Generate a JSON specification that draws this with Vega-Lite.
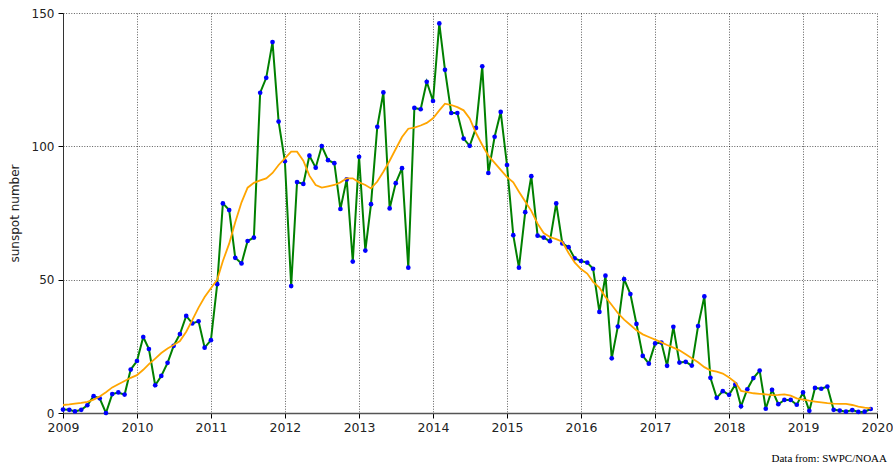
{
  "$schema": "https://vega.github.io/schema/vega-lite/v6.json",
  "width": 814,
  "height": 400,
  "autosize": "none",
  "padding": {"left": 63, "top": 13, "right": 16, "bottom": 56},
  "background": "white",
  "config": {
    "view": {"stroke": null},
    "font": "DejaVu Sans"
  },
  "title": {
    "text": "Data from: SWPC/NOAA",
    "orient": "bottom",
    "anchor": "end",
    "frame": "group",
    "font": "Liberation Serif",
    "fontSize": 11,
    "fontWeight": "normal",
    "color": "#000",
    "offset": 19,
    "dx": 10
  },
  "data": {
    "values": [
      {"d":"2009-01-01","ssn":1.3,"sm":3.0},{"d":"2009-02-01","ssn":1.2,"sm":3.2},{"d":"2009-03-01","ssn":0.6,"sm":3.5},{"d":"2009-04-01","ssn":1.2,"sm":3.8},{"d":"2009-05-01","ssn":2.9,"sm":4.2},{"d":"2009-06-01","ssn":6.3,"sm":5.0},{"d":"2009-07-01","ssn":5.5,"sm":6.2},{"d":"2009-08-01","ssn":0.0,"sm":7.8},{"d":"2009-09-01","ssn":7.1,"sm":9.6},{"d":"2009-10-01","ssn":7.7,"sm":10.8},{"d":"2009-11-01","ssn":6.9,"sm":12.0},{"d":"2009-12-01","ssn":16.3,"sm":13.2},
      {"d":"2010-01-01","ssn":19.5,"sm":14.2},{"d":"2010-02-01","ssn":28.5,"sm":16.2},{"d":"2010-03-01","ssn":24.0,"sm":18.3},{"d":"2010-04-01","ssn":10.4,"sm":20.4},{"d":"2010-05-01","ssn":13.9,"sm":22.5},{"d":"2010-06-01","ssn":18.8,"sm":24.2},{"d":"2010-07-01","ssn":25.2,"sm":25.5},{"d":"2010-08-01","ssn":29.6,"sm":27.0},{"d":"2010-09-01","ssn":36.4,"sm":30.5},{"d":"2010-10-01","ssn":33.6,"sm":34.8},{"d":"2010-11-01","ssn":34.4,"sm":39.5},{"d":"2010-12-01","ssn":24.5,"sm":43.5},
      {"d":"2011-01-01","ssn":27.3,"sm":46.8},{"d":"2011-02-01","ssn":48.3,"sm":50.0},{"d":"2011-03-01","ssn":78.6,"sm":57.0},{"d":"2011-04-01","ssn":76.1,"sm":63.5},{"d":"2011-05-01","ssn":58.2,"sm":71.5},{"d":"2011-06-01","ssn":56.1,"sm":79.0},{"d":"2011-07-01","ssn":64.5,"sm":84.5},{"d":"2011-08-01","ssn":65.8,"sm":86.3},{"d":"2011-09-01","ssn":120.1,"sm":87.2},{"d":"2011-10-01","ssn":125.7,"sm":88.0},{"d":"2011-11-01","ssn":139.1,"sm":90.0},{"d":"2011-12-01","ssn":109.3,"sm":93.0},
      {"d":"2012-01-01","ssn":94.4,"sm":95.5},{"d":"2012-02-01","ssn":47.6,"sm":98.0},{"d":"2012-03-01","ssn":86.6,"sm":98.0},{"d":"2012-04-01","ssn":85.9,"sm":94.6},{"d":"2012-05-01","ssn":96.5,"sm":89.0},{"d":"2012-06-01","ssn":92.0,"sm":85.5},{"d":"2012-07-01","ssn":100.1,"sm":84.5},{"d":"2012-08-01","ssn":94.8,"sm":85.0},{"d":"2012-09-01","ssn":93.7,"sm":85.5},{"d":"2012-10-01","ssn":76.5,"sm":86.5},{"d":"2012-11-01","ssn":87.6,"sm":88.0},{"d":"2012-12-01","ssn":56.8,"sm":88.0},
      {"d":"2013-01-01","ssn":96.1,"sm":86.5},{"d":"2013-02-01","ssn":60.9,"sm":85.5},{"d":"2013-03-01","ssn":78.3,"sm":84.2},{"d":"2013-04-01","ssn":107.3,"sm":86.8},{"d":"2013-05-01","ssn":120.2,"sm":90.5},{"d":"2013-06-01","ssn":76.7,"sm":94.6},{"d":"2013-07-01","ssn":86.2,"sm":99.0},{"d":"2013-08-01","ssn":91.8,"sm":103.5},{"d":"2013-09-01","ssn":54.5,"sm":106.6},{"d":"2013-10-01","ssn":114.4,"sm":107.0},{"d":"2013-11-01","ssn":113.9,"sm":107.8},{"d":"2013-12-01","ssn":124.2,"sm":108.8},
      {"d":"2014-01-01","ssn":117.0,"sm":110.5},{"d":"2014-02-01","ssn":146.1,"sm":113.5},{"d":"2014-03-01","ssn":128.7,"sm":116.0},{"d":"2014-04-01","ssn":112.5,"sm":115.5},{"d":"2014-05-01","ssn":112.5,"sm":114.7},{"d":"2014-06-01","ssn":102.9,"sm":113.5},{"d":"2014-07-01","ssn":100.2,"sm":110.5},{"d":"2014-08-01","ssn":106.9,"sm":105.0},{"d":"2014-09-01","ssn":130.0,"sm":100.5},{"d":"2014-10-01","ssn":90.0,"sm":96.5},{"d":"2014-11-01","ssn":103.6,"sm":93.8},{"d":"2014-12-01","ssn":112.9,"sm":91.2},
      {"d":"2015-01-01","ssn":93.0,"sm":88.5},{"d":"2015-02-01","ssn":66.7,"sm":86.5},{"d":"2015-03-01","ssn":54.5,"sm":83.0},{"d":"2015-04-01","ssn":75.3,"sm":79.3},{"d":"2015-05-01","ssn":88.8,"sm":75.8},{"d":"2015-06-01","ssn":66.5,"sm":71.0},{"d":"2015-07-01","ssn":65.8,"sm":67.5},{"d":"2015-08-01","ssn":64.4,"sm":66.0},{"d":"2015-09-01","ssn":78.6,"sm":65.2},{"d":"2015-10-01","ssn":63.6,"sm":64.2},{"d":"2015-11-01","ssn":62.2,"sm":60.0},{"d":"2015-12-01","ssn":58.0,"sm":56.5},
      {"d":"2016-01-01","ssn":57.0,"sm":54.0},{"d":"2016-02-01","ssn":56.4,"sm":52.3},{"d":"2016-03-01","ssn":54.1,"sm":49.2},{"d":"2016-04-01","ssn":37.9,"sm":47.0},{"d":"2016-05-01","ssn":51.5,"sm":43.5},{"d":"2016-06-01","ssn":20.5,"sm":40.5},{"d":"2016-07-01","ssn":32.4,"sm":37.5},{"d":"2016-08-01","ssn":50.2,"sm":35.0},{"d":"2016-09-01","ssn":44.6,"sm":33.0},{"d":"2016-10-01","ssn":33.4,"sm":31.0},{"d":"2016-11-01","ssn":21.4,"sm":29.5},{"d":"2016-12-01","ssn":18.5,"sm":28.5},
      {"d":"2017-01-01","ssn":26.1,"sm":27.5},{"d":"2017-02-01","ssn":26.4,"sm":26.5},{"d":"2017-03-01","ssn":17.7,"sm":25.5},{"d":"2017-04-01","ssn":32.3,"sm":24.5},{"d":"2017-05-01","ssn":18.9,"sm":23.5},{"d":"2017-06-01","ssn":19.2,"sm":22.0},{"d":"2017-07-01","ssn":17.8,"sm":20.5},{"d":"2017-08-01","ssn":32.6,"sm":19.0},{"d":"2017-09-01","ssn":43.7,"sm":17.2},{"d":"2017-10-01","ssn":13.2,"sm":16.0},{"d":"2017-11-01","ssn":5.7,"sm":15.5},{"d":"2017-12-01","ssn":8.2,"sm":14.8},
      {"d":"2018-01-01","ssn":6.8,"sm":13.3},{"d":"2018-02-01","ssn":10.7,"sm":11.5},{"d":"2018-03-01","ssn":2.5,"sm":8.3},{"d":"2018-04-01","ssn":8.9,"sm":7.8},{"d":"2018-05-01","ssn":13.1,"sm":7.4},{"d":"2018-06-01","ssn":15.9,"sm":7.2},{"d":"2018-07-01","ssn":1.6,"sm":7.0},{"d":"2018-08-01","ssn":8.7,"sm":6.7},{"d":"2018-09-01","ssn":3.3,"sm":6.8},{"d":"2018-10-01","ssn":4.9,"sm":7.0},{"d":"2018-11-01","ssn":4.9,"sm":6.5},{"d":"2018-12-01","ssn":3.1,"sm":5.5},
      {"d":"2019-01-01","ssn":7.7,"sm":5.0},{"d":"2019-02-01","ssn":0.8,"sm":4.6},{"d":"2019-03-01","ssn":9.4,"sm":4.3},{"d":"2019-04-01","ssn":9.1,"sm":4.0},{"d":"2019-05-01","ssn":9.9,"sm":3.7},{"d":"2019-06-01","ssn":1.2,"sm":3.5},{"d":"2019-07-01","ssn":0.9,"sm":3.4},{"d":"2019-08-01","ssn":0.5,"sm":3.4},{"d":"2019-09-01","ssn":1.1,"sm":3.0},{"d":"2019-10-01","ssn":0.4,"sm":2.4},{"d":"2019-11-01","ssn":0.5,"sm":2.0},{"d":"2019-12-01","ssn":1.5,"sm":1.7}
    ]
  },
  "encoding": {
    "x": {
      "field": "d",
      "type": "temporal",
      "scale": {"type": "utc", "domain": [{"year": 2009, "month": 1, "date": 1, "utc": true}, {"year": 2020, "month": 1, "date": 1, "utc": true}]},
      "axis": {
        "title": null,
        "format": "%Y",
        "formatType": "utc",
        "values": [
          {"year": 2009, "utc": true}, {"year": 2010, "utc": true}, {"year": 2011, "utc": true}, {"year": 2012, "utc": true},
          {"year": 2013, "utc": true}, {"year": 2014, "utc": true}, {"year": 2015, "utc": true}, {"year": 2016, "utc": true},
          {"year": 2017, "utc": true}, {"year": 2018, "utc": true}, {"year": 2019, "utc": true}, {"year": 2020, "utc": true}
        ],
        "grid": true,
        "gridColor": "#000",
        "gridDash": [1, 1.6],
        "gridWidth": 0.8,
        "gridOpacity": 0.8,
        "domainColor": "#555",
        "domainWidth": 1.5,
        "tickColor": "#000",
        "tickSize": 5,
        "labelPadding": 3,
        "labelFontSize": 12.5,
        "labelColor": "#222",
        "labelFlush": false,
        "labelOverlap": false
      }
    }
  },
  "layer": [
    {
      "mark": {"type": "line", "color": "#008000", "strokeWidth": 2},
      "encoding": {
        "y": {
          "field": "ssn",
          "type": "quantitative",
          "scale": {"domain": [0, 150], "nice": false},
          "axis": {
            "title": "sunspot number",
            "titleFontSize": 12,
            "titleFontWeight": "normal",
            "titleColor": "#222",
            "titlePadding": 10,
            "values": [0, 50, 100, 150],
            "grid": true,
            "gridColor": "#000",
            "gridDash": [1, 1.6],
            "gridWidth": 0.8,
            "gridOpacity": 0.8,
            "domainColor": "#333",
            "domainWidth": 1,
            "tickColor": "#000",
            "tickSize": 5,
            "labelPadding": 4,
            "labelFontSize": 12,
            "labelColor": "#222",
            "labelFlush": false
          }
        }
      }
    },
    {
      "mark": {"type": "point", "filled": true, "color": "#0000ff", "size": 22, "opacity": 1},
      "encoding": {"y": {"field": "ssn", "type": "quantitative"}}
    },
    {
      "mark": {"type": "line", "color": "#ffa500", "strokeWidth": 1.8},
      "encoding": {"y": {"field": "sm", "type": "quantitative"}}
    }
  ]
}
